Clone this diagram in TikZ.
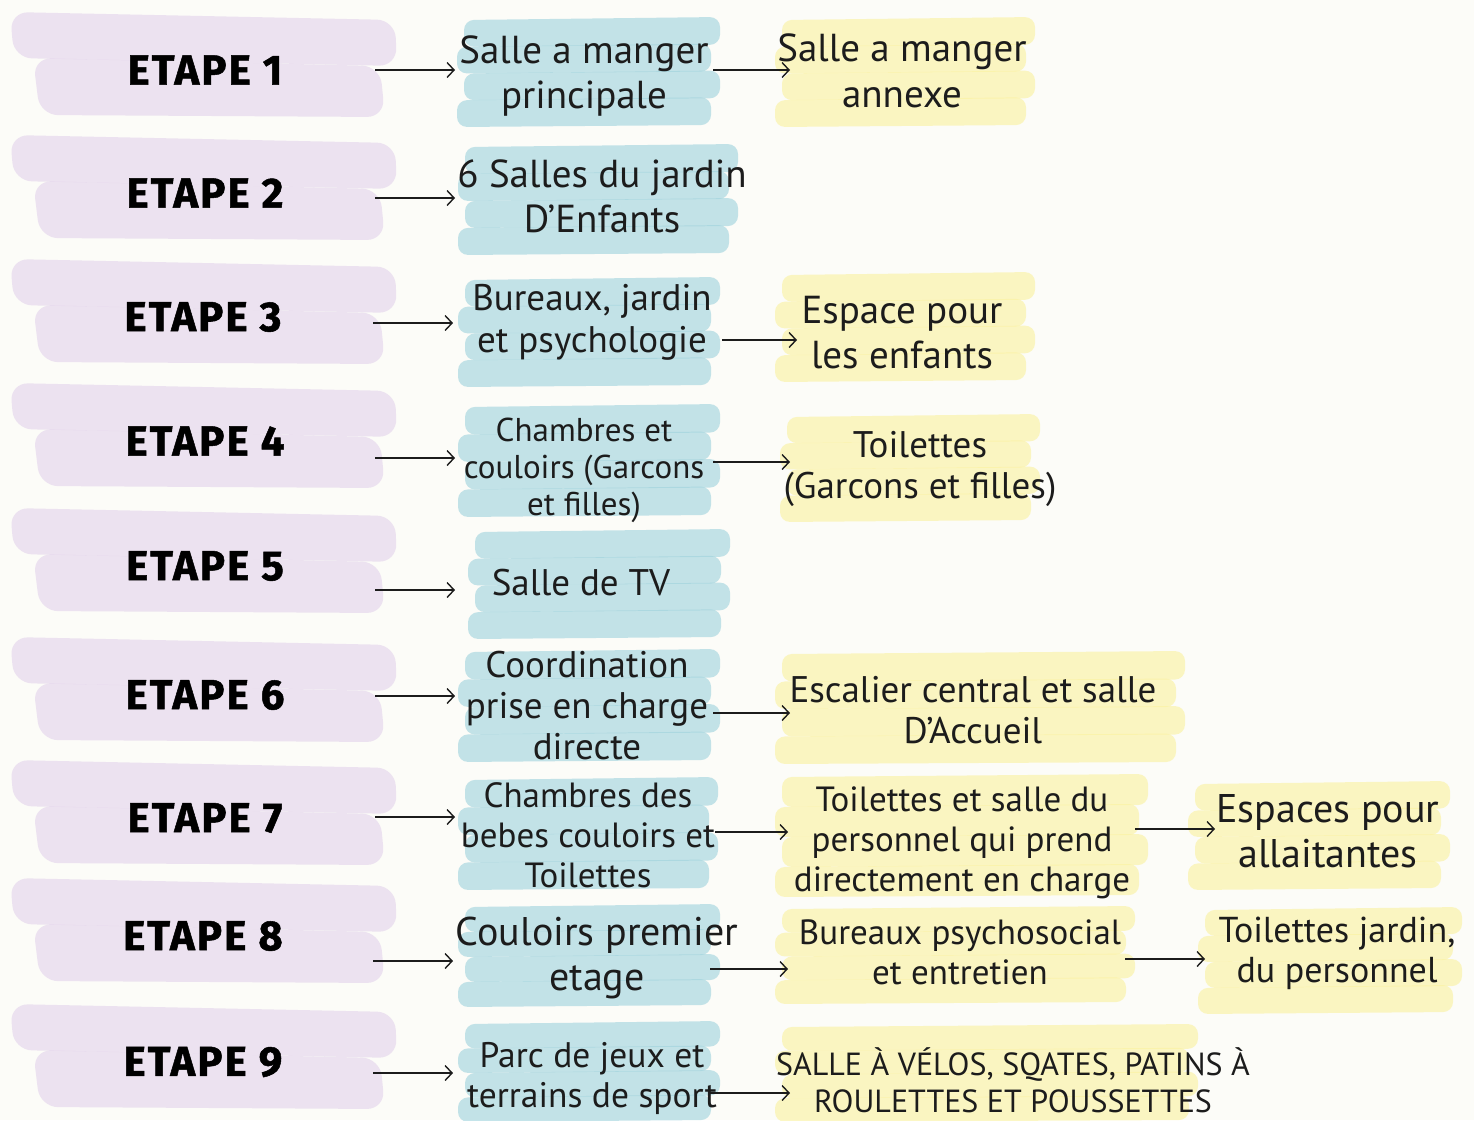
\documentclass[tikz,border=0pt]{standalone}
\usepackage{fontspec}
\setmainfont{PT Sans}
\newfontfamily\etapefont{Fira Sans}[BoldFeatures={FakeBold=1.2},LetterSpace=5]
\usetikzlibrary{arrows.meta}
\definecolor{bg}{RGB}{252,252,248}
\definecolor{lav}{RGB}{228,213,236}
\definecolor{tealb}{RGB}{160,211,221}
\definecolor{yel}{RGB}{250,242,160}
\definecolor{ink}{RGB}{28,28,28}
\newcommand\fs[2]{\fontsize{#1}{#2}\selectfont}
% highlight block of horizontal brush bands: colour, x1, x2, ytop, ybottom, number of bands
\newcommand\hblock[6]{%
  \pgfmathsetmacro\bp{(#5-#4)/#6}%
  \foreach \i in {1,...,#6}{%
    \pgfmathsetmacro\yt{#4+(\i-1)*\bp}%
    \pgfmathsetmacro\yb{#4+\i*\bp+2}%
    \pgfmathsetmacro\xa{#2+mod(\i,2)*7}%
    \pgfmathsetmacro\xb{#3-mod(\i+1,2)*9}%
    \fill[#1,fill opacity=0.62,rounded corners=10pt] (\xa,\yt+2) -- (\xb,\yt-1) -- (\xb,\yb-2) -- (\xa,\yb) -- cycle;
  }}
% lavender double stroke behind an ETAPE label, centred on y
\newcommand\pblock[1]{%
  \fill[lav,fill opacity=0.65,rounded corners=18pt] (10,#1-58) -- (395,#1-50) -- (397,#1-4) -- (14,#1-12) -- cycle;
  \fill[lav,fill opacity=0.65,rounded corners=18pt] (33,#1-12) -- (380,#1-4) -- (385,#1+47) -- (40,#1+45) -- cycle;}
\begin{document}
\begin{tikzpicture}[x=1pt,y=-1pt,
  arr/.style={draw=ink,line width=1.4pt,-{Straight Barb[length=7pt,width=15pt,line width=1.4pt]}},
  lbl/.style={align=center,inner sep=0pt,text=ink},
  etape/.style={font=\etapefont\bfseries\fs{42}{48},inner sep=0pt,text=black}]
\useasboundingbox[fill=bg] (0,0) rectangle (1474,1120);
% lavender strokes
\foreach \y in {70,193,317,441,566,695,818,936,1062}{\pblock{\y}}
% blue blocks (middle column)
\hblock{tealb}{457}{720}{18}{125}{4}
\hblock{tealb}{458}{738}{145}{253}{4}
\hblock{tealb}{458}{720}{278}{385}{4}
\hblock{tealb}{458}{720}{405}{515}{4}
\hblock{tealb}{468}{730}{530}{637}{4}
\hblock{tealb}{458}{720}{650}{760}{4}
\hblock{tealb}{458}{718}{778}{888}{4}
\hblock{tealb}{458}{720}{905}{1005}{4}
\hblock{tealb}{458}{720}{1022}{1120}{4}
% yellow blocks
\hblock{yel}{775}{1035}{18}{125}{4}
\hblock{yel}{775}{1035}{273}{380}{4}
\hblock{yel}{780}{1040}{415}{520}{4}
\hblock{yel}{775}{1185}{652}{762}{4}
\hblock{yel}{775}{1148}{775}{895}{4}
\hblock{yel}{1188}{1450}{782}{888}{4}
\hblock{yel}{775}{1135}{907}{1002}{4}
\hblock{yel}{1198}{1462}{908}{1012}{4}
\hblock{yel}{775}{1198}{1025}{1120}{4}
% ETAPE labels
\node[etape] (e1) at (205,70) {ETAPE 1};
\node[etape] (e2) at (205,193) {ETAPE 2};
\node[etape] (e3) at (203,317) {ETAPE 3};
\node[etape] (e4) at (205,441) {ETAPE 4};
\node[etape] (e5) at (205,566) {ETAPE 5};
\node[etape] (e6) at (205,695) {ETAPE 6};
\node[etape] (e7) at (205,818) {ETAPE 7};
\node[etape] (e8) at (203,936) {ETAPE 8};
\node[etape] (e9) at (203,1062) {ETAPE 9};
% middle column
\node[lbl,font=\fs{39}{45}] (m1) at (584,76) {Salle a manger\\principale};
\node[lbl,font=\fs{39}{45}] (m2) at (602,196) {6 Salles du jardin\\D'Enfants};
\node[lbl,font=\fs{37}{42}] (m3) at (592,322) {Bureaux, jardin\\et psychologie};
\node[lbl,font=\fs{33}{37}] (m4) at (584,470) {Chambres et\\couloirs (Garcons\\et filles)};
\node[lbl,font=\fs{37}{42}] (m5) at (581,583) {Salle de TV};
\node[lbl,font=\fs{37}{41}] (m6) at (587,706) {Coordination\\prise en charge\\directe};
\node[lbl,font=\fs{35}{40}] (m7) at (588,835) {Chambres des\\bebes couloirs et\\Toilettes};
\node[lbl,font=\fs{40}{45}] (m8) at (597,958) {Couloirs premier\\etage};
\node[lbl,font=\fs{35.5}{40}] (m9) at (592,1078) {Parc de jeux et\\terrains de sport};
% right column
\node[lbl,font=\fs{39}{46}] (r1) at (902,71) {Salle a manger\\annexe};
\node[lbl,font=\fs{39}{45}] (r3) at (902,333) {Espace pour\\les enfants};
\node[lbl,font=\fs{37}{41}] (r4) at (920,469) {Toilettes\\(Garcons et filles)};
\node[lbl,font=\fs{37}{41}] (r6) at (973,710) {Escalier central et salle\\D'Accueil};
\node[lbl,font=\fs{35}{40}] (r7) at (962,843) {Toilettes et salle du\\personnel qui prend\\directement en charge};
\node[lbl,font=\fs{35}{40}] (r8) at (960,952) {Bureaux psychosocial\\et entretien};
\node[lbl,font=\fs{32}{37}] (r9) at (1013,1080) {SALLE À VÉLOS, SQATES, PATINS À\\ROULETTES ET POUSSETTES};
% far right column
\node[lbl,font=\fs{40}{45}] (f7) at (1328,831) {Espaces pour\\allaitantes};
\node[lbl,font=\fs{36}{40}] (f8) at (1337,953) {Toilettes jardin,\\du personnel};
% connectors
\foreach \e/\dy in {e1/0,e2/-5,e3/-6,e4/-17,e5/-24,e6/-1,e7/1,e8/-25,e9/-11}{
  \draw[arr] ([xshift=170pt,yshift=\dy pt]\e.center) -- ++(80,0);}
\draw[arr] ([xshift=129pt,yshift=6pt]m1.center) -- ++(77,0);
\draw[arr] ([xshift=130pt,yshift=-18pt]m3.center) -- ++(75,0);
\draw[arr] ([xshift=129pt,yshift=8pt]m4.center) -- ++(77,0);
\draw[arr] ([xshift=126pt,yshift=-7pt]m6.center) -- ++(77,0);
\draw[arr] ([xshift=127pt,yshift=3pt]m7.center) -- ++(73,0);
\draw[arr] ([xshift=173pt,yshift=14pt]r7.center) -- ++(80,0);
\draw[arr] ([xshift=113pt,yshift=-11pt]m8.center) -- ++(78,0);
\draw[arr] ([xshift=165pt,yshift=-7pt]r8.center) -- ++(80,0);
\draw[arr] ([xshift=118pt,yshift=-15pt]m9.center) -- ++(80,0);
\end{tikzpicture}
\end{document}
